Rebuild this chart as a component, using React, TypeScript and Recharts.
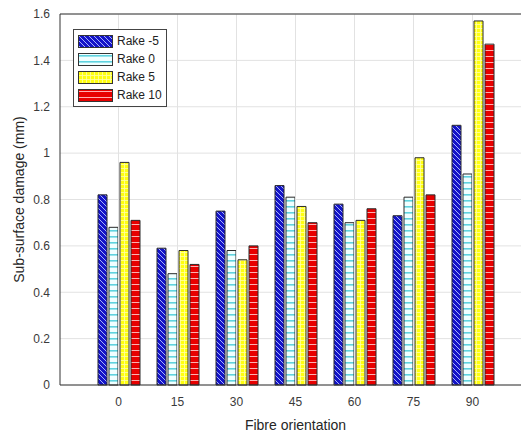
import React from "react";
import { BarChart, Bar, XAxis, YAxis, CartesianGrid, ReferenceLine } from "recharts";

const orientations = ["0", "15", "30", "45", "60", "75", "90"];
const rakeMinus5 = [0.82, 0.59, 0.75, 0.86, 0.78, 0.73, 1.12];
const rake0 = [0.68, 0.48, 0.58, 0.81, 0.7, 0.81, 0.91];
const rake5 = [0.96, 0.58, 0.54, 0.77, 0.71, 0.98, 1.57];
const rake10 = [0.71, 0.52, 0.6, 0.7, 0.76, 0.82, 1.47];
const yTicks = [0, 0.2, 0.4, 0.6, 0.8, 1, 1.2, 1.4, 1.6];

const data = orientations.map((o, i) => ({
  name: o,
  r1: rakeMinus5[i],
  r2: rake0[i],
  r3: rake5[i],
  r4: rake10[i],
}));

const series = [
  { key: "r1", label: "Rake -5", fill: "url(#patBlue)" },
  { key: "r2", label: "Rake 0", fill: "url(#patCyan)" },
  { key: "r3", label: "Rake 5", fill: "url(#patYellow)" },
  { key: "r4", label: "Rake 10", fill: "url(#patRed)" },
];

const font = "'Liberation Sans', Arial, sans-serif";
const textColor = "#3a3a3a";
const gridColor = "#e2e2e2";

// legend drawn as an overlay so it doesn't shift the plot area
const LegendBox = () => (
  <div
    style={{
      position: "absolute",
      left: 73,
      top: 29,
      border: "1px solid #444",
      background: "#fff",
      padding: "2px 4px",
      width: 84,
      fontFamily: font,
      fontSize: 12,
      color: "#222",
    }}
  >
    {series.map((s) => (
      <div key={s.key} style={{ display: "flex", alignItems: "center", height: 18 }}>
        <svg width={35} height={13} style={{ marginRight: 4 }}>
          <rect x={0.5} y={0.5} width={34} height={12} fill={s.fill} stroke="#333" />
        </svg>
        <span>{s.label}</span>
      </div>
    ))}
  </div>
);

export default function App() {
  return (
    <div style={{ position: "fixed", left: 0, top: 0, width: 521, height: 435, overflow: "hidden", background: "#fff" }}>
      <svg width={0} height={0} style={{ position: "absolute" }} />
      <BarChart
        width={545}
        height={435}
        data={data}
        margin={{ top: 14, right: 14, left: 0, bottom: 0 }}
        barSize={9}
        barGap={2}
        style={{ overflow: "hidden" }}
      >
        <defs>
          <pattern id="patBlue" width={5} height={5} patternUnits="userSpaceOnUse">
            <rect width={5} height={5} fill="#1414c8" />
            <path d="M-1,-1 L6,6 M-1,4 L1,6 M4,-1 L6,1" stroke="#b8c4ff" strokeWidth={0.9} />
          </pattern>
          <pattern id="patCyan" width={4} height={6} patternUnits="userSpaceOnUse">
            <rect width={4} height={6} fill="#f0ffff" />
            <rect y={2} width={4} height={1.6} fill="#5fd3df" />
          </pattern>
          <pattern id="patYellow" width={4} height={4} patternUnits="userSpaceOnUse">
            <rect width={4} height={4} fill="#ffff10" />
            <path d="M0,0.5 H4 M0.5,0 V4" stroke="#ffffa8" strokeWidth={0.8} />
          </pattern>
          <pattern id="patRed" width={4} height={6} patternUnits="userSpaceOnUse">
            <rect width={4} height={6} fill="#e80000" />
            <rect y={2} width={4} height={1} fill="#ffb0b0" />
          </pattern>
        </defs>
        <CartesianGrid stroke={gridColor} vertical={false} />
        {orientations.map((o) => (
          <ReferenceLine key={"g" + o} x={o} stroke={gridColor} />
        ))}
        <XAxis
          dataKey="name"
          padding={{ left: 29, right: 29 }}
          tickLine={false}
          axisLine={{ stroke: "#333" }}
          tick={{ fill: textColor, fontSize: 12, fontFamily: font }}
          tickMargin={6}
          height={50}
          label={{ value: "Fibre orientation", position: "insideBottom", offset: 5, fill: "#262626", fontSize: 14, fontFamily: font }}
        />
        <YAxis
          domain={[0, 1.6]}
          ticks={yTicks}
          width={60}
          interval={0}
          tickLine={false}
          axisLine={{ stroke: "#333" }}
          tickFormatter={(v: number) => String(Math.round(v * 10) / 10)}
          tick={{ fill: textColor, fontSize: 12, fontFamily: font }}
          tickMargin={4}
          label={{
            value: "Sub-surface damage (mm)",
            angle: -90,
            position: "insideLeft",
            offset: 19,
            style: { textAnchor: "middle", fill: "#262626", fontSize: 14, fontFamily: font },
          }}
        />
        <ReferenceLine y={1.6} stroke="#333" />
        {series.map((s) => (
          <Bar
            key={s.key}
            dataKey={s.key}
            name={s.label}
            fill={s.fill}
            stroke="#2a2a2a"
            strokeWidth={1}
            isAnimationActive={false}
          />
        ))}
      </BarChart>
      <LegendBox />
    </div>
  );
}
